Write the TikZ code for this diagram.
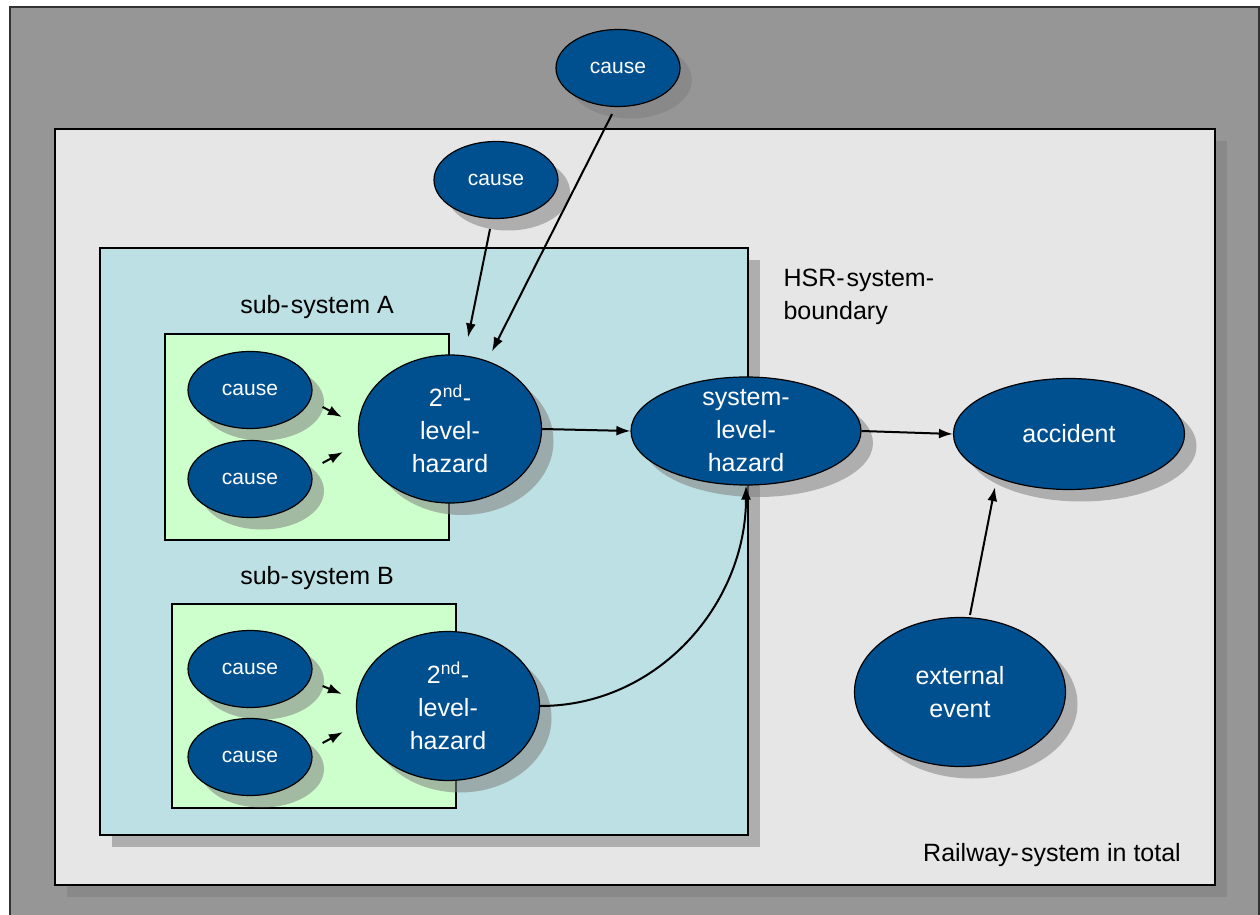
\documentclass[tikz,border=0pt]{standalone}
\usepackage{fontspec}
\setmainfont{Liberation Sans}
\usepackage{tikz}
\usetikzlibrary{shapes.geometric,shadows,arrows.meta}

\definecolor{framegray}{RGB}{150,150,150}
\definecolor{railgray}{RGB}{230,230,230}
\definecolor{hsrblue}{RGB}{188,224,227}
\definecolor{subgreen}{RGB}{204,255,204}
\definecolor{nodeblue}{RGB}{0,80,144}

\newcommand{\hy}{-\kern2pt}

\begin{document}
\begin{tikzpicture}[
    x=1pt, y=1pt,
    shadowed/.style={
        drop shadow={shadow xshift=12pt, shadow yshift=-12pt, fill=gray, opacity=0.55}
    },
    areabox/.style={
        draw,
        rectangle,
        line width = 1.5pt,
        inner sep = 0pt
    },
    eventnode/.style={
        draw,
        ellipse,
        fill = nodeblue,
        text = white,
        inner sep = 0pt,
        line width = 1.2pt,
        align = center,
        shadowed
    },
    causenode/.style={
        eventnode,
        minimum width = 124pt,
        minimum height = 77pt,
        font = \fontsize{21}{25}\selectfont
    },
    hazardnode/.style={
        eventnode,
        font = \fontsize{25}{33}\selectfont
    },
    boxtext/.style={
        draw = none,
        fill = none,
        align = left,
        font = \fontsize{25}{33}\selectfont
    },
    link/.style={
        ->,
        line width = 2pt
    },
    >={Latex[length=14pt,width=10pt]}
    ]

\path[fill=white, use as bounding box] (0,0) rectangle (1260,914);
\draw[draw=black!80, line width=2pt, fill=framegray] (10,-10) rectangle (1259,907);

% system boundaries
\node[areabox, shadowed, fill=railgray, minimum width=1160pt, minimum height=756pt] (railway) at (635,407) {};
\node[areabox, shadowed, fill=hsrblue, minimum width=648pt, minimum height=587pt] (hsr) at (424,372.5) {};
\node[areabox, fill=subgreen, minimum width=284pt, minimum height=206pt] (subA) at (307,477) {};
\node[areabox, fill=subgreen, minimum width=284pt, minimum height=204pt] (subB) at (314,208) {};

\node[boxtext] (labA) at (317,607) {sub\hy system A};
\node[boxtext] (labB) at (317,336) {sub\hy system B};
\node[boxtext, anchor=west] (labHSR) at (780,617) {HSR\hy system\hy\\boundary};
\node[boxtext] (labRail) at (1052,59) {Railway\hy system in total};

% causes
\node[causenode] (causeTop) at (618,846) {cause};
\node[causenode] (causeMid) at (496,734) {cause};
\node[causenode] (causeA1) at (250,524) {cause};
\node[causenode] (causeA2) at (250,435) {cause};
\node[causenode] (causeB1) at (250,245) {cause};
\node[causenode] (causeB2) at (250,157) {cause};

% hazards
\node[hazardnode, minimum width=183pt, minimum height=148pt] (hazA) at (450,485) {2\textsuperscript{nd}-\\level-\\hazard};
\node[hazardnode, minimum width=183pt, minimum height=149pt] (hazB) at (448,208) {2\textsuperscript{nd}-\\level-\\hazard};
\node[hazardnode, inner ysep=-8pt, minimum width=230pt, minimum height=108pt] (sysHaz) at (746,483) {system-\\level-\\hazard};
\node[hazardnode, minimum width=231pt, minimum height=111pt] (accident) at (1069,480) {accident};
\node[hazardnode, minimum width=211pt, minimum height=149pt] (extEvent) at (960,222) {external\\event};

\draw[link] ([shift={(-6,-7)}]causeTop.south) -- ([shift={(42,3)}]hazA.north);
\draw[link] ([shift={(-6,-10)}]causeMid.south) -- ([shift={(18,17)}]hazA.north);
\draw[link] ([shift={(10,-17)}]causeA1.east) -- ([shift={(-16,12)}]hazA.west);
\draw[link] ([shift={(10,16)}]causeA2.east) -- ([shift={(-15,-23)}]hazA.west);
\draw[link] ([shift={(10,-17)}]causeB1.east) -- ([shift={(-14,12)}]hazB.west);
\draw[link] ([shift={(10,14)}]causeB2.east) -- ([shift={(-13,-26)}]hazB.west);
\draw[link] (hazA.east) -- (sysHaz.west);
\draw[link] (hazB.east) to[out=0, in=-90] (sysHaz.south);
\draw[link] (sysHaz.east) -- (accident.west);
\draw[link] ([shift={(10,2)}]extEvent.north) -- ([shift={(-74,3)}]accident.south);
\end{tikzpicture}
\end{document}
